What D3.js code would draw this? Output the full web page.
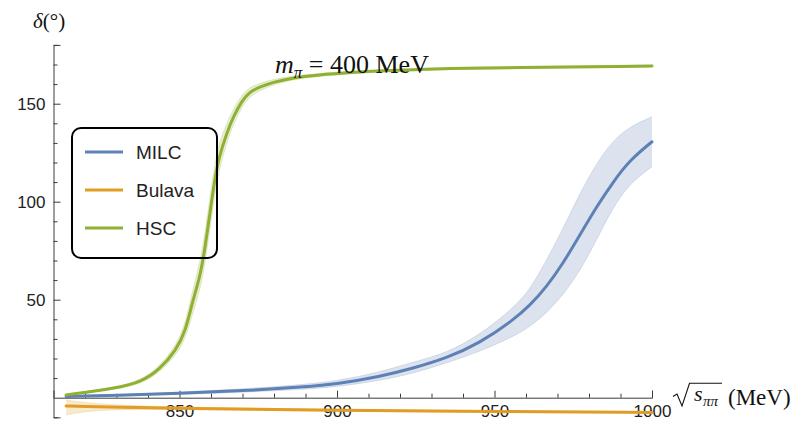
<!DOCTYPE html>
<html>
<head>
<meta charset="utf-8">
<script src="https://cdn.jsdelivr.net/npm/d3@7"></script>
<style>
  body { margin: 0; background: #fff; }
  svg { display: block; }
</style>
</head>
<body>
<div id="chart"></div>
<script>
// phase shift vs sqrt(s) for three lattice determinations, m_pi = 400 MeV
const hscE     = [814, 830, 838, 843.5, 849, 852, 854, 856.5, 858, 859.5, 861, 862.5, 865, 867, 870, 872, 874.5, 883, 904, 936, 1000];
const hscDelta = [1.4, 4.8, 8.2, 14.1, 24.3, 34.5, 48.3, 61.6, 75.4, 92.2, 109.5, 122.8, 135, 143.2, 151.9, 155.5, 158, 163.1, 166.2, 168.2, 169.2];
const hscLo    = [1.1, 4.3, 7.2, 12.6, 21.8, 30.5, 42.3, 54.6, 67.4, 84.2, 101.5, 115.8, 130, 139.2, 148.9, 153, 156, 162.1, 165.6, 167.7, 168.7];
const hscHi    = [1.7, 5.3, 9.2, 15.6, 26.8, 38.5, 54.3, 68.6, 83.4, 100.2, 117.5, 129.8, 140, 147.2, 154.9, 158, 160, 164.1, 166.8, 168.7, 169.7];

const milcE     = [814, 830, 850, 870, 890, 900, 913.6, 924.1, 934.7, 945.3, 955.9, 961.2, 966.5, 971.8, 977.1, 982.4, 987.7, 993, 1000];
const milcDelta = [0.6, 1.2, 2.2, 3.5, 5.5, 7, 10.7, 15, 20.1, 27.8, 39.5, 47, 56.5, 68.6, 83, 97.4, 110.2, 121.3, 130.6];
const milcHi    = [0.8, 1.6, 2.8, 4.4, 6.8, 8.6, 13, 18.2, 22.7, 32, 45.6, 55, 70, 86.5, 104.3, 119.6, 131.5, 138.3, 143.4];
const milcLo    = [0.4, 0.9, 1.7, 2.7, 4.3, 5.6, 8.7, 12.4, 17.6, 23.5, 31.1, 36.2, 43.1, 52.5, 64.5, 80.5, 97.4, 109.4, 117.9];

const bulavaE     = [814, 820, 830, 850, 900, 950, 1000];
const bulavaDelta = [-4.2, -4.5, -4.8, -5.4, -6.5, -7.1, -7.5];
const bulavaHi    = [-1.2, -2.6, -3.7, -4.8, -6.0, -6.7, -7.1];
const bulavaLo    = [-8.8, -7.0, -6.0, -6.0, -7.0, -7.5, -7.9];

const seriesNames  = ["MILC", "Bulava", "HSC"];
const seriesColors = ["#5e81b5", "#e19c24", "#8fb032"];

const xMajor = [850, 900, 950, 1000];
const xMinor = d3.range(820, 1001, 10).filter(v => v % 50 !== 0);
const yMajor = [50, 100, 150];
const yMinor = d3.range(-10, 181, 10).filter(v => v % 50 !== 0);

const width = 794, height = 421;

const svg = d3.select("#chart")
  .append("svg")
  .attr("width", width)
  .attr("height", height)
  .style("font-family", "'Liberation Sans', Arial, sans-serif");

const x = d3.scaleLinear().domain([810, 1000]).range([53.5, 652]);
const y = d3.scaleLinear().domain([-10, 180]).range([417.3, 44.9]);

const zip = (E, d, lo, hi) => E.map((e, i) => ({ e: e, d: d[i], lo: lo[i], hi: hi[i] }));
const series = [
  { name: "MILC", color: seriesColors[0], pts: zip(milcE, milcDelta, milcLo, milcHi) },
  { name: "Bulava", color: seriesColors[1], pts: zip(bulavaE, bulavaDelta, bulavaLo, bulavaHi) },
  { name: "HSC", color: seriesColors[2], pts: zip(hscE, hscDelta, hscLo, hscHi) }
];

const curve = d3.curveBasis;

const line = d3.line()
  .x(d => x(d.e))
  .y(d => y(d.d))
  .curve(curve);

const band = d3.area()
  .x(d => x(d.e))
  .y0(d => y(d.lo))
  .y1(d => y(d.hi))
  .curve(curve);

const edgeLo = d3.line().x(d => x(d.e)).y(d => y(d.lo)).curve(curve);
const edgeHi = d3.line().x(d => x(d.e)).y(d => y(d.hi)).curve(curve);

// axes (ticks point inward, like Mathematica)
const axisColor = "#3a3a3a";

const xAxisG = svg.append("g").attr("transform", `translate(0,${y(0)})`);
xAxisG.call(d3.axisBottom(x).tickValues(xMinor).tickSize(-4).tickFormat(""));
xAxisG.append("g").call(d3.axisBottom(x).tickValues(xMajor).tickSize(-7).tickPadding(7).tickFormat(d3.format("d")));

const yAxisG = svg.append("g").attr("transform", `translate(${x(810)},0)`);
yAxisG.call(d3.axisLeft(y).tickValues(yMinor).tickSize(-4).tickFormat(""));
yAxisG.append("g").call(d3.axisLeft(y).tickValues(yMajor).tickSize(-7).tickPadding(8).tickFormat(d3.format("d")));

svg.selectAll(".domain").attr("stroke", axisColor).attr("stroke-width", 1);
svg.selectAll(".tick line").attr("stroke", axisColor);
svg.selectAll(".tick text")
  .attr("fill", "#222")
  .style("font-size", "17px")
  .style("font-family", "'Liberation Sans', Arial, sans-serif");
// inner (major) axes draw their own domain path; hide the duplicates
xAxisG.select("g .domain").remove();
yAxisG.select("g .domain").remove();

// bands
const bands = svg.append("g");
series.forEach(s => {
  bands.append("path")
    .attr("d", band(s.pts))
    .attr("fill", s.color)
    .attr("fill-opacity", 0.22);
  [edgeLo, edgeHi].forEach(g => {
    bands.append("path")
      .attr("d", g(s.pts))
      .attr("fill", "none")
      .attr("stroke", s.color)
      .attr("stroke-opacity", 0.2)
      .attr("stroke-width", 1);
  });
});

// central curves
const curves = svg.append("g");
series.forEach(s => {
  curves.append("path")
    .attr("d", line(s.pts))
    .attr("fill", "none")
    .attr("stroke", s.color)
    .attr("stroke-width", 3)
    .attr("stroke-linecap", "round");
});

// legend
const legend = svg.append("g");
legend.append("rect")
  .attr("x", 72).attr("y", 128)
  .attr("width", 145).attr("height", 130)
  .attr("rx", 9).attr("ry", 9)
  .attr("fill", "none")
  .attr("stroke", "#000")
  .attr("stroke-width", 2);

seriesNames.forEach((name, i) => {
  const ly = 152 + i * 38;
  legend.append("line")
    .attr("x1", 85).attr("x2", 123)
    .attr("y1", ly).attr("y2", ly)
    .attr("stroke", seriesColors[i])
    .attr("stroke-width", 3);
  legend.append("text")
    .attr("x", 136).attr("y", ly + 7)
    .attr("fill", "#222")
    .style("font-size", "19px")
    .text(name);
});

// labels
const serif = "'Liberation Serif', 'Times New Roman', serif";

const title = svg.append("text")
  .attr("x", 275).attr("y", 73)
  .style("font-family", serif)
  .style("font-size", "26px")
  .attr("fill", "#111");
title.append("tspan").attr("font-style", "italic").text("m");
title.append("tspan").attr("font-style", "italic").attr("font-size", "17px").attr("dy", 5).text("π");
title.append("tspan").attr("dy", -5).text(" = 400 MeV");

const yLab = svg.append("text")
  .attr("x", 33).attr("y", 28)
  .style("font-family", serif)
  .style("font-size", "21px")
  .attr("fill", "#111");
yLab.append("tspan").attr("font-style", "italic").text("δ");
yLab.append("tspan").text("(°)");

// sqrt(s_pipi) (MeV)
svg.append("path")
  .attr("d", "M673,396.5 L677,394 L682,406 L689.5,383.3 L722,383.3")
  .attr("fill", "none")
  .attr("stroke", "#111")
  .attr("stroke-width", 1.1);
svg.append("text")
  .attr("x", 694).attr("y", 401)
  .style("font-family", serif)
  .style("font-size", "22px")
  .attr("font-style", "italic")
  .attr("fill", "#111")
  .text("s");
svg.append("text")
  .attr("x", 703).attr("y", 406)
  .style("font-family", serif)
  .style("font-size", "15px")
  .attr("font-style", "italic")
  .attr("fill", "#111")
  .text("ππ");
svg.append("text")
  .attr("x", 728).attr("y", 405)
  .style("font-family", serif)
  .style("font-size", "23px")
  .attr("fill", "#111")
  .text("(MeV)");
</script>
</body>
</html>
